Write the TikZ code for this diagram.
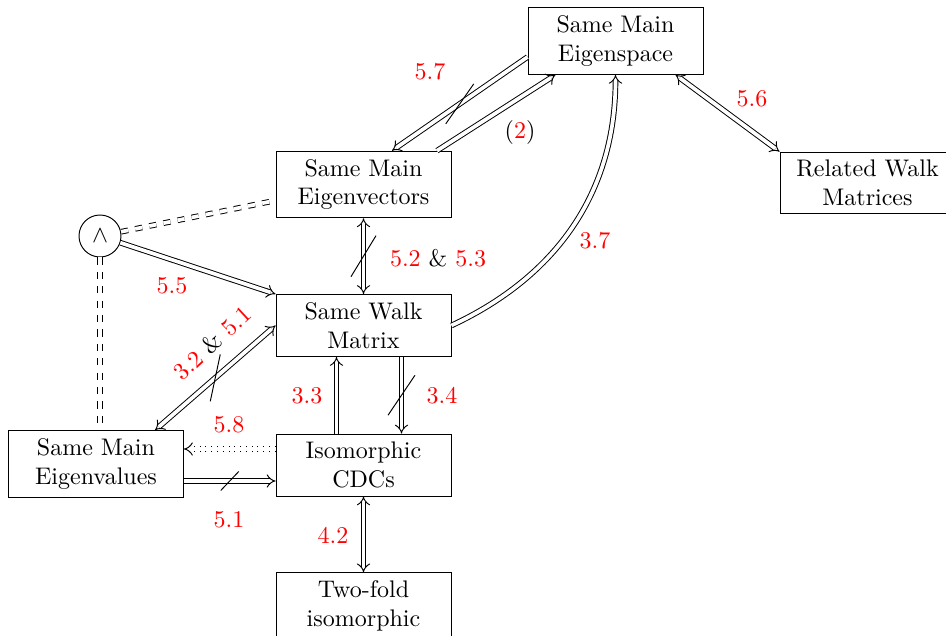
\documentclass[tikz,border=0pt]{standalone}
\usetikzlibrary{arrows.meta}
\begin{document}
\begin{tikzpicture}[x=0.41667pt,y=-0.41667pt,
  box/.style={draw, align=center, minimum width=72.9pt, inner sep=3.333pt},
  dbl/.style={double, double equal sign distance},
  imp/.style={dbl,-Implies},
  both/.style={dbl,Implies-Implies},
  lbl/.style={text=red},
  slash/.style={line width=0.4pt}]
\useasboundingbox (0,0) rectangle (946,636);
% nodes
\node[box] (es)  at (615.5,41)  {Same Main\\Eigenspace};
\node[box] (ev)  at (363.5,184.5) {Same Main\\Eigenvectors};
\node[box] (rw)  at (867.5,183) {Related Walk\\Matrices};
\node[box] (wm)  at (363.5,325.5) {Same Walk\\Matrix};
\node[box] (cdc) at (363.5,465) {Isomorphic\\CDCs};
\node[box] (evl) at (96,464) {Same Main\\Eigenvalues};
\node[box] (tf)  at (363.5,606) {Two-fold\\isomorphic};
\node[draw,circle,minimum size=17.5pt,inner sep=0pt] (and) at (100,236) {$\wedge$};
% edges
\draw[imp] ([shift={(0,16)}]es.west) -- coordinate[pos=0.5] (n57) ([shift={(28.5,0)}]ev.north)
  node[lbl] (l57) at (430,72) {5.7};
\draw[slash] ([shift={(-14,20)}]n57) -- ([shift={(14,-20)}]n57);
\draw[imp] ([shift={(73.5,0)}]ev.north) -- ([shift={(-60,0)}]es.south)
  node (l2) at (520,133) {(\textcolor{red}{2})};
\draw[both] ([shift={(60,0)}]es.south) -- (rw.north west)
  node[lbl] (l56) at (752,99) {5.6};
\draw[both] (ev.south) -- coordinate[pos=0.5] (n52) (wm.north)
  node (l52) at (438,258) {\textcolor{red}{5.2} \& \textcolor{red}{5.3}};
\draw[slash] ([shift={(-12.5,20.5)}]n52) -- ([shift={(12.5,-20.5)}]n52);
\draw[imp] (wm.east) to[out=25,in=-90] (es.south)
  node[lbl] (l37) at (595,241) {3.7};
\draw[dbl,dashed] (and) -- ([shift={(0,16)}]ev.west);
\draw[dbl,dashed] (and) -- (and |- evl.north);
\draw[imp] (and) -- (wm.north west)
  node[lbl] (l55) at (172,286) {5.5};
\draw[both] ([shift={(59,0)}]evl.north) -- coordinate[pos=0.5] (n32) (wm.west)
  node[rotate=43] (l32) at (212,343) {\textcolor{red}{3.2} \& \textcolor{red}{5.1}};
\draw[slash] ([shift={(-5,23.5)}]n32) -- ([shift={(5,-23.5)}]n32);
\draw[imp,dotted] ([shift={(0,-16)}]cdc.west) -- ([shift={(0,-15)}]evl.east)
  node[lbl] (l58) at (229,425) {5.8};
\draw[imp] ([shift={(0,17)}]evl.east) -- coordinate[pos=0.5] (n51) ([shift={(0,16)}]cdc.west)
  node[lbl] (l51) at (229,520) {5.1};
\draw[slash] ([shift={(-9,9.5)}]n51) -- ([shift={(9,-9.5)}]n51);
\draw[imp] ([shift={(-27,0)}]cdc.north) -- ([shift={(-27,0)}]wm.south)
  node[lbl] (l33) at (307,396) {3.3};
\draw[imp] ([shift={(38,0)}]wm.south) -- coordinate[pos=0.5] (n34) ([shift={(38,0)}]cdc.north)
  node[lbl] (l34) at (442,396) {3.4};
\draw[slash] ([shift={(-13.5,20)}]n34) -- ([shift={(13.5,-20)}]n34);
\draw[both] (cdc.south) -- (tf.north)
  node[lbl] (l42) at (333,535) {4.2};
\end{tikzpicture}
\end{document}
